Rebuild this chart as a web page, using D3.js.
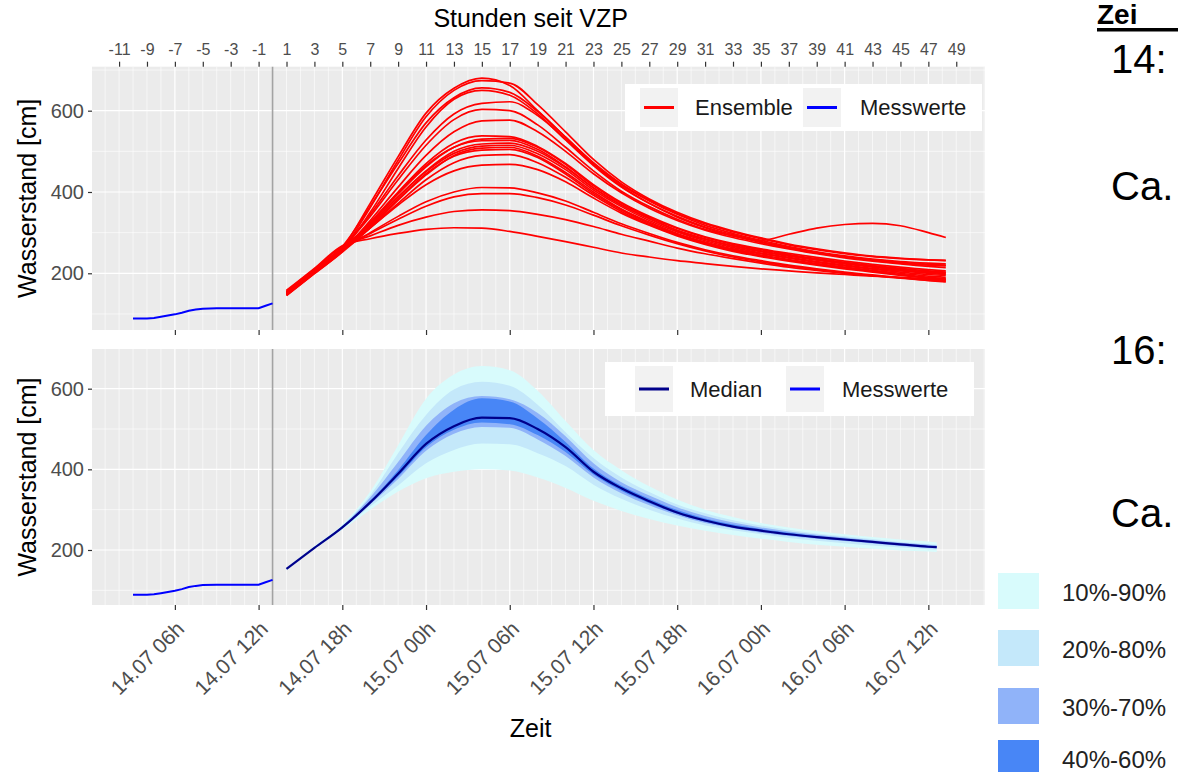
<!DOCTYPE html>
<html>
<head>
<meta charset="utf-8">
<script src="https://cdn.jsdelivr.net/npm/d3@7"></script>
<style>
  body { margin: 0; background: #ffffff; overflow: hidden; }
  svg { display: block; font-family: "Liberation Sans", Arial, sans-serif; }
</style>
</head>
<body>
<svg id="chart" width="1178" height="772"></svg>
<script>
// ---- Data: hours relative to the forecast start (VZP = 14.07 13h) ----

// Gauge readings before the forecast start
const measuredHours  = [-10, -9.5, -9, -8.5, -8, -7.5, -7, -6.5, -6, -5.5, -5, -4, -3, -2, -1, -0.5, 0];
const measuredLevels = [89, 89, 89, 90, 93, 96, 99, 103, 108, 111, 113, 114, 114, 114, 114, 120, 126];

// Ensemble members (water level in cm)
const ensembleHours = [1, 3, 5, 7, 9, 11, 13, 15, 17, 19, 21, 23, 25, 27, 29, 31, 33, 35, 37, 39, 41, 43, 45, 47, 48.25];
const ensembleMembers = [
  [152, 208, 262, 372, 487, 594, 655, 680, 662, 600, 535, 472, 420, 380, 347, 322, 302, 285, 270, 258, 248, 241, 236, 233, 232],
  [149, 204, 258, 362, 478, 585, 650, 674, 668, 615, 548, 480, 425, 383, 350, 324, 304, 287, 272, 260, 250, 242, 237, 233, 231],
  [155, 210, 266, 365, 470, 570, 632, 656, 645, 598, 535, 470, 418, 378, 345, 318, 298, 281, 266, 253, 243, 235, 229, 225, 223],
  [147, 202, 256, 350, 458, 560, 628, 650, 638, 592, 528, 465, 412, 372, 340, 314, 295, 278, 264, 251, 241, 233, 227, 222, 220],
  [151, 206, 262, 345, 440, 528, 592, 618, 622, 588, 530, 468, 414, 372, 338, 312, 292, 276, 262, 250, 240, 232, 225, 220, 218],
  [153, 207, 263, 340, 430, 515, 578, 603, 600, 565, 510, 452, 402, 364, 333, 308, 292, 281, 296, 311, 320, 323, 317, 300, 288],
  [146, 200, 254, 330, 412, 490, 548, 575, 577, 548, 500, 445, 398, 360, 330, 306, 288, 273, 260, 248, 238, 230, 223, 217, 214],
  [150, 205, 260, 325, 400, 470, 520, 538, 536, 512, 470, 418, 374, 340, 312, 290, 273, 260, 249, 239, 230, 222, 215, 209, 206],
  [150, 205, 258, 322, 395, 462, 510, 530, 532, 510, 468, 415, 372, 338, 310, 288, 271, 258, 246, 236, 227, 219, 212, 206, 203],
  [152, 206, 260, 325, 398, 465, 510, 526, 527, 505, 462, 410, 368, 335, 306, 285, 268, 255, 244, 234, 225, 217, 210, 204, 201],
  [148, 203, 256, 318, 388, 452, 500, 518, 520, 500, 460, 410, 368, 334, 305, 283, 266, 253, 242, 232, 223, 215, 208, 202, 199],
  [154, 208, 262, 320, 388, 450, 495, 513, 515, 494, 455, 405, 364, 330, 302, 280, 263, 250, 239, 229, 220, 212, 206, 200, 197],
  [145, 199, 252, 312, 380, 442, 490, 508, 510, 488, 448, 400, 358, 326, 298, 277, 260, 248, 237, 227, 218, 210, 203, 197, 195],
  [151, 205, 258, 315, 382, 445, 488, 503, 505, 485, 444, 396, 356, 323, 296, 275, 258, 245, 234, 224, 215, 207, 200, 193, 190],
  [149, 203, 256, 312, 372, 430, 472, 490, 492, 472, 436, 392, 352, 320, 294, 273, 256, 243, 232, 222, 213, 205, 197, 190, 187],
  [153, 207, 262, 312, 368, 418, 452, 466, 468, 455, 425, 385, 348, 318, 292, 271, 254, 241, 230, 220, 211, 203, 195, 188, 184],
  [147, 201, 258, 300, 340, 376, 400, 411, 410, 398, 378, 350, 322, 298, 276, 258, 243, 231, 220, 211, 203, 196, 189, 183, 180],
  [150, 204, 262, 298, 333, 365, 388, 396, 396, 386, 368, 343, 317, 294, 273, 255, 240, 228, 218, 209, 201, 194, 188, 182, 179],
  [156, 210, 266, 292, 318, 338, 352, 356, 354, 345, 332, 315, 296, 279, 262, 248, 236, 225, 215, 207, 200, 194, 189, 185, 183],
  [158, 212, 268, 285, 298, 308, 312, 311, 303, 291, 278, 264, 250, 240, 231, 224, 217, 211, 206, 201, 197, 193, 190, 187, 186]
];

// Ensemble quantiles (cm)
const bandHours = [1, 3, 5, 7, 9, 11, 13, 15, 17, 19, 21, 23, 25, 27, 29, 31, 33, 35, 37, 39, 41, 43, 45, 47, 47.6];
const q10 = [150, 202, 250, 300, 345, 378, 394, 400, 397, 380, 354, 322, 297, 277, 261, 248, 237, 228, 220, 213, 208, 203, 199, 196, 195];
const q20 = [151, 204, 253, 308, 360, 415, 448, 464, 462, 440, 408, 362, 327, 300, 278, 261, 249, 239, 230, 223, 217, 211, 206, 202, 201];
const q30 = [152, 205, 254, 313, 376, 446, 488, 505, 503, 474, 433, 380, 341, 311, 286, 267, 254, 243, 235, 228, 222, 216, 210, 205, 204];
const q40 = [152, 205, 255, 316, 382, 455, 498, 516, 512, 485, 443, 387, 347, 316, 290, 270, 256, 246, 237, 230, 224, 218, 212, 207, 206];
const q60 = [153, 206, 257, 322, 398, 485, 548, 576, 568, 526, 468, 402, 359, 327, 299, 278, 263, 252, 243, 235, 228, 221, 215, 210, 208];
const q70 = [154, 207, 259, 330, 418, 508, 564, 582, 574, 540, 482, 415, 368, 335, 306, 284, 268, 256, 246, 238, 231, 224, 218, 213, 211];
const q80 = [155, 208, 261, 336, 440, 535, 598, 617, 607, 560, 492, 428, 380, 344, 313, 291, 274, 261, 250, 241, 234, 227, 220, 215, 213];
const q90 = [156, 210, 263, 345, 460, 575, 635, 656, 646, 595, 520, 448, 398, 358, 325, 300, 282, 267, 256, 247, 239, 232, 226, 221, 219];
const median = [153, 205, 256, 318, 389, 463, 507, 528, 527, 500, 455, 394, 353, 321, 293, 273, 258, 248, 239, 232, 226, 220, 214, 208, 207];

// Axis labels
const hourTicks = d3.range(-11, 50, 2);
const dateTickHours  = [-7, -1, 5, 11, 17, 23, 29, 35, 41, 47];
const dateTickLabels = ["14.07 06h", "14.07 12h", "14.07 18h", "15.07 00h", "15.07 06h",
                        "15.07 12h", "15.07 18h", "16.07 00h", "16.07 06h", "16.07 12h"];
const levelTicks = [200, 400, 600];
const levelMinor = [100, 300, 500, 700];
const bandLabels = ["10%-90%", "20%-80%", "30%-70%", "40%-60%"];
const bandColors = ["#d8fbfc", "#c4e8fa", "#90b3f9", "#4886f6"];

// ---- Layout ----
const svg = d3.select("#chart");
const left = 92, right = 985;
const x = d3.scaleLinear().domain([-12.94, 51.06]).range([left, right]);
const yTop = d3.scaleLinear().domain([60.5, 708.2]).range([330, 66.7]);
const yBot = d3.scaleLinear().domain([63.6, 698.4]).range([605, 349]);

function panel(id, y) {
  const [y1, y0] = y.range();
  const g = svg.append("g");
  g.append("clipPath").attr("id", id).append("rect")
    .attr("x", left).attr("y", y0).attr("width", right - left).attr("height", y1 - y0);
  g.append("rect").attr("x", left).attr("y", y0).attr("width", right - left).attr("height", y1 - y0)
    .attr("fill", "#ebebeb");
  const minorHours = d3.range(-12, 52).filter(h => !dateTickHours.includes(h));
  g.selectAll(".vmin").data(minorHours).join("line")
    .attr("x1", d => x(d)).attr("x2", d => x(d)).attr("y1", y0).attr("y2", y1)
    .attr("stroke", "#fff").attr("stroke-width", 0.6);
  g.selectAll(".hmin").data(levelMinor.filter(v => y(v) > y0 && y(v) < y1)).join("line")
    .attr("x1", left).attr("x2", right).attr("y1", d => y(d)).attr("y2", d => y(d))
    .attr("stroke", "#fff").attr("stroke-width", 0.6);
  g.selectAll(".vmaj").data(dateTickHours).join("line")
    .attr("x1", d => x(d)).attr("x2", d => x(d)).attr("y1", y0).attr("y2", y1)
    .attr("stroke", "#fff").attr("stroke-width", 1.2);
  g.selectAll(".hmaj").data(levelTicks).join("line")
    .attr("x1", left).attr("x2", right).attr("y1", d => y(d)).attr("y2", d => y(d))
    .attr("stroke", "#fff").attr("stroke-width", 1.2);
  // forecast start
  g.append("line").attr("x1", x(0)).attr("x2", x(0)).attr("y1", y0).attr("y2", y1)
    .attr("stroke", "#a3a3a3").attr("stroke-width", 1.6);
  // level axis
  const ax = g.append("g").attr("transform", `translate(${left},0)`)
    .call(d3.axisLeft(y).tickValues(levelTicks).tickSize(4).tickPadding(4));
  ax.select(".domain").remove();
  ax.selectAll("line").attr("stroke", "#333").attr("stroke-width", 1.2);
  ax.selectAll("text").attr("fill", "#4d4d4d").style("font-size", "20px")
    .style("font-family", "Liberation Sans, Arial, sans-serif");
  g.append("text").attr("transform", `translate(36,${(y0 + y1) / 2}) rotate(-90)`)
    .attr("text-anchor", "middle").style("font-size", "25px").attr("fill", "#000")
    .text("Wasserstand [cm]");
  return g.append("g").attr("clip-path", `url(#${id})`);
}

const topPlot = panel("clipTop", yTop);
const botPlot = panel("clipBot", yBot);

// ---- Top panel: ensemble ----
const lineTop = d3.line().x((d, i) => x(ensembleHours[i])).y(d => yTop(d)).curve(d3.curveMonotoneX);
topPlot.selectAll(".member").data(ensembleMembers).join("path")
  .attr("d", lineTop).attr("fill", "none").attr("stroke", "#ff0000").attr("stroke-width", 1.7);
const measLine = y => d3.line().x((d, i) => x(measuredHours[i])).y(d => y(d));
topPlot.append("path").attr("d", measLine(yTop)(measuredLevels))
  .attr("fill", "none").attr("stroke", "#0000ff").attr("stroke-width", 2);

// ---- Bottom panel: quantile bands and median ----
const bandPairs = [[q10, q90], [q20, q80], [q30, q70], [q40, q60]];
const area = d3.area().x((d, i) => x(bandHours[i])).y0(d => yBot(d[0])).y1(d => yBot(d[1]))
  .curve(d3.curveMonotoneX);
botPlot.selectAll(".band").data(bandPairs).join("path")
  .attr("d", ([lo, hi]) => area(lo.map((v, i) => [v, hi[i]])))
  .attr("fill", (d, i) => bandColors[i]);
const lineBot = d3.line().x((d, i) => x(bandHours[i])).y(d => yBot(d)).curve(d3.curveMonotoneX);
botPlot.append("path").attr("d", lineBot(median))
  .attr("fill", "none").attr("stroke", "#00008b").attr("stroke-width", 2.2);
botPlot.append("path").attr("d", measLine(yBot)(measuredLevels))
  .attr("fill", "none").attr("stroke", "#0000ff").attr("stroke-width", 2);

// ---- Time axes ----
function styleAxis(a, size) {
  a.select(".domain").remove();
  a.selectAll("line").attr("stroke", "#333").attr("stroke-width", 1.2);
  a.selectAll("text").attr("fill", "#4d4d4d").style("font-size", size)
    .style("font-family", "Liberation Sans, Arial, sans-serif");
}
const topAxis = svg.append("g").attr("transform", `translate(0,${yTop.range()[1]})`)
  .call(d3.axisTop(x).tickValues(hourTicks).tickSize(5).tickPadding(7).tickFormat(d => String(d)));
styleAxis(topAxis, "16px");
svg.append("text").attr("x", x(18.5)).attr("y", 27).attr("text-anchor", "middle")
  .style("font-size", "25px").attr("fill", "#000").text("Stunden seit VZP");

const midAxis = svg.append("g").attr("transform", `translate(0,${yTop.range()[0]})`)
  .call(d3.axisBottom(x).tickValues(dateTickHours).tickSize(5).tickFormat(""));
styleAxis(midAxis, "15px");

const botAxis = svg.append("g").attr("transform", `translate(0,${yBot.range()[0]})`)
  .call(d3.axisBottom(x).tickValues(dateTickHours).tickSize(5)
    .tickFormat((d, i) => dateTickLabels[i]));
styleAxis(botAxis, "21px");
botAxis.selectAll("text")
  .attr("text-anchor", "end").attr("dy", "0.35em")
  .attr("transform", "translate(5,20) rotate(-45)").attr("y", 0).attr("x", 0);
svg.append("text").attr("x", x(18.5)).attr("y", 737).attr("text-anchor", "middle")
  .style("font-size", "25px").attr("fill", "#000").text("Zeit");

// ---- Legends ----
function lineLegend(x0, y0, w, h, items) {
  const g = svg.append("g");
  g.append("rect").attr("x", x0).attr("y", y0).attr("width", w).attr("height", h).attr("fill", "#fff");
  items.forEach(it => {
    g.append("rect").attr("x", it.kx).attr("y", y0 + 4).attr("width", 38).attr("height", h - 8).attr("fill", "#f2f2f2");
    g.append("line").attr("x1", it.kx + 4).attr("x2", it.kx + 34).attr("y1", y0 + h / 2).attr("y2", y0 + h / 2)
      .attr("stroke", it.color).attr("stroke-width", 3);
    g.append("text").attr("x", it.tx).attr("y", y0 + h / 2).attr("dy", "0.35em")
      .style("font-size", "22px").attr("fill", "#1a1a1a").text(it.label);
  });
}
lineLegend(625, 84, 357, 47, [
  { kx: 640, tx: 695, color: "#ff0000", label: "Ensemble" },
  { kx: 803, tx: 860, color: "#0000ff", label: "Messwerte" }
]);
lineLegend(605, 362, 369, 54, [
  { kx: 635, tx: 690, color: "#00008b", label: "Median" },
  { kx: 786, tx: 842, color: "#0000ff", label: "Messwerte" }
]);

// Band legend
const bandKeyY = [573, 630, 688, 740];
const bandG = svg.append("g");
bandG.selectAll("rect").data(bandLabels).join("rect")
  .attr("x", 998).attr("y", (d, i) => bandKeyY[i]).attr("width", 41).attr("height", 36)
  .attr("fill", (d, i) => bandColors[i]);
bandG.selectAll("text").data(bandLabels).join("text")
  .attr("x", 1062).attr("y", (d, i) => bandKeyY[i] + 20).attr("dy", "0.35em")
  .style("font-size", "24px").attr("fill", "#222").text(d => d);

// ---- Side notes ----
const notes = svg.append("g").style("font-family", "Liberation Sans, Arial, sans-serif").attr("fill", "#000");
notes.append("text").attr("x", 1097).attr("y", 24).style("font-size", "28px").style("font-weight", "bold").text("Zei");
notes.append("rect").attr("x", 1097).attr("y", 28).attr("width", 81).attr("height", 3.5).attr("fill", "#000");
notes.append("text").attr("x", 1111).attr("y", 73).style("font-size", "40px").text("14:");
notes.append("text").attr("x", 1111).attr("y", 200).style("font-size", "40px").text("Ca.");
notes.append("text").attr("x", 1111).attr("y", 364).style("font-size", "40px").text("16:");
notes.append("text").attr("x", 1111).attr("y", 527).style("font-size", "40px").text("Ca.");
</script>
</body>
</html>
